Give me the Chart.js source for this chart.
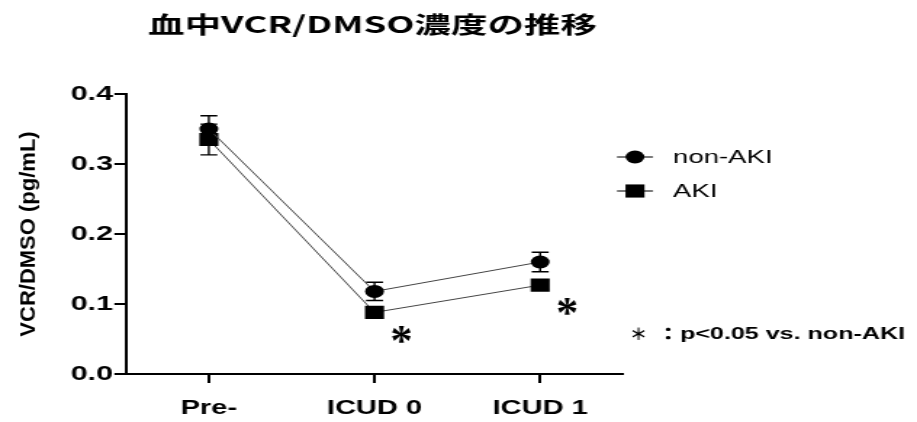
<!DOCTYPE html>
<html>
<head>
<meta charset="utf-8">
<script src="https://cdn.jsdelivr.net/npm/chart.js@4.4.1/dist/chart.umd.min.js"></script>
<style>
  html, body { margin: 0; padding: 0; background: #fff; overflow: hidden; }
  #wrap { position: absolute; left: 0; top: 0; width: 632px; height: 422px;
          transform: scaleX(1.45095); transform-origin: 0 0; }
</style>
</head>
<body>
<div id="wrap"><canvas id="c"></canvas></div>
<script>
// ---- data ----
const categories = ['Pre-', 'ICUD 0', 'ICUD 1'];
const nonAkiMean = [0.350, 0.118, 0.160];
const nonAkiSem  = [0.019, 0.013, 0.014];
const akiMean    = [0.335, 0.088, 0.127];
const akiSem     = [0.022, 0.006, 0.006];
const significant = [false, true, true];
const yTicks = [0.0, 0.1, 0.2, 0.3, 0.4];
const seriesNames = ['non-AKI', 'AKI'];
const titleText = '血中VCR/DMSO濃度の推移';
const yTitleText = 'VCR/DMSO (pg/mL)';
const footnoteMark = '＊';
const footnoteSep = '：';
const footnoteText = 'p<0.05 vs. non-AKI';

// The figure is drawn on a narrower canvas and widened horizontally by CSS.
const S = 917 / 632;
const cx = x => x / S;               // page x -> canvas x
const SANS = '"Liberation Sans", Arial, sans-serif';
const CJK = '"Noto Sans CJK JP", sans-serif';

// error bars (mean ± SEM) with caps
const errorBars = {
  id: 'errorBars',
  beforeDatasetsDraw(chart) {
    const ctx = chart.ctx, ys = chart.scales.y;
    const cap = cx(8.5);
    chart.data.datasets.forEach((ds, i) => {
      chart.getDatasetMeta(i).data.forEach((pt, j) => {
        const top = ys.getPixelForValue(ds.data[j] + ds.sem[j]);
        const bot = ys.getPixelForValue(ds.data[j] - ds.sem[j]);
        ctx.save();
        ctx.strokeStyle = '#000';
        ctx.lineWidth = 1.4;
        ctx.beginPath();
        ctx.moveTo(pt.x, top); ctx.lineTo(pt.x, bot);
        ctx.moveTo(pt.x - cap, top); ctx.lineTo(pt.x + cap, top);
        ctx.moveTo(pt.x - cap, bot); ctx.lineTo(pt.x + cap, bot);
        ctx.stroke();
        ctx.restore();
      });
    });
  }
};

// draw a glyph fitted into a box (page pixels) centred at (x, y)
function fitGlyph(ctx, text, font, x, y, w, h) {
  ctx.save();
  ctx.font = font;
  ctx.textAlign = 'left';
  ctx.textBaseline = 'alphabetic';
  const m = ctx.measureText(text);
  const gw = m.actualBoundingBoxLeft + m.actualBoundingBoxRight;
  const gh = m.actualBoundingBoxAscent + m.actualBoundingBoxDescent;
  const gx = (m.actualBoundingBoxRight - m.actualBoundingBoxLeft) / 2;
  const gy = (m.actualBoundingBoxDescent - m.actualBoundingBoxAscent) / 2;
  ctx.translate(x, y);
  ctx.scale(cx(w) / gw, h / gh);
  ctx.fillStyle = '#000';
  ctx.fillText(text, -gx, -gy);
  ctx.restore();
}

// draw a line of text stretched to span [x0, x1] (page pixels)
function spanText(ctx, text, font, x0, x1, y) {
  ctx.save();
  ctx.font = font;
  ctx.textAlign = 'left';
  ctx.textBaseline = 'middle';
  const w = ctx.measureText(text).width;
  ctx.translate(cx(x0), y);
  ctx.scale(cx(x1 - x0) / w, 1);
  ctx.fillStyle = '#000';
  ctx.fillText(text, 0, 0);
  ctx.restore();
}

// significance marks next to the AKI points
const sigMarks = {
  id: 'sigMarks',
  afterDatasetsDraw(chart) {
    const meta = chart.getDatasetMeta(1);
    significant.forEach((sig, j) => {
      if (!sig) return;
      const pt = meta.data[j];
      fitGlyph(chart.ctx, '*', 'bold 40px "Liberation Serif", serif',
               pt.x + cx(27), pt.y + 22, 20, 18);
    });
  }
};

function drawMarker(ctx, style, x, y) {
  ctx.fillStyle = '#000';
  ctx.beginPath();
  if (style === 'circle') {
    ctx.arc(x, y, 6.5, 0, Math.PI * 2);
  } else {
    const h = 9.3 * Math.SQRT1_2;
    ctx.rect(x - h, y - h, 2 * h, 2 * h);
  }
  ctx.fill();
}

// titles, legend and footnote
const decorations = {
  id: 'decorations',
  afterDraw(chart) {
    const ctx = chart.ctx;

    // main title
    spanText(ctx, titleText, 'bold 23px ' + CJK, 148, 597, 24);

    // y-axis title keeps its natural proportions
    ctx.save();
    ctx.scale(1 / S, 1);
    ctx.fillStyle = '#000';
    ctx.translate(29, 234);
    ctx.rotate(-Math.PI / 2);
    ctx.font = 'bold 22px ' + SANS;
    ctx.textAlign = 'center';
    ctx.textBaseline = 'middle';
    ctx.fillText(yTitleText, 0, 0);
    ctx.restore();

    // legend
    const rows = [157, 191];
    chart.data.datasets.forEach((ds, i) => {
      const y = rows[i];
      ctx.save();
      ctx.strokeStyle = '#333';
      ctx.lineWidth = 1.3;
      ctx.beginPath();
      ctx.moveTo(cx(617), y); ctx.lineTo(cx(653), y);
      ctx.stroke();
      drawMarker(ctx, ds.pointStyle, cx(635), y);
      ctx.fillStyle = '#000';
      ctx.font = '19px ' + SANS;
      ctx.textAlign = 'left';
      ctx.textBaseline = 'middle';
      ctx.fillText(ds.label, cx(673), y + 1);
      ctx.restore();
    });

    // footnote
    fitGlyph(ctx, footnoteMark, 'bold 20px ' + CJK, cx(638.5), 333, 14, 13);
    ctx.save();
    ctx.fillStyle = '#000';
    ctx.font = 'bold 17px ' + CJK;
    ctx.textAlign = 'center';
    ctx.textBaseline = 'middle';
    ctx.fillText(footnoteSep, cx(668), 334);
    ctx.restore();
    spanText(ctx, footnoteText, 'bold 17px ' + SANS, 680, 905, 334);
  }
};

new Chart(document.getElementById('c'), {
  type: 'line',
  data: {
    labels: categories,
    datasets: [
      {
        label: seriesNames[0], data: nonAkiMean, sem: nonAkiSem,
        borderColor: '#444', borderWidth: 1, tension: 0,
        pointStyle: 'circle', pointRadius: 6.5,
        pointBackgroundColor: '#000', pointBorderColor: '#000', pointBorderWidth: 0
      },
      {
        label: seriesNames[1], data: akiMean, sem: akiSem,
        borderColor: '#444', borderWidth: 1, tension: 0,
        pointStyle: 'rect', pointRadius: 9.3,
        pointBackgroundColor: '#000', pointBorderColor: '#000', pointBorderWidth: 0
      }
    ]
  },
  options: {
    responsive: true,
    maintainAspectRatio: false,
    animation: false,
    events: [],
    layout: { padding: { top: 94, right: 632 - cx(623), bottom: 0, left: 0 } },
    plugins: { legend: { display: false }, tooltip: { enabled: false }, title: { display: false } },
    scales: {
      x: {
        type: 'category',
        offset: true,
        grid: { display: true, drawOnChartArea: false, tickLength: 9, color: '#000', lineWidth: 2 },
        border: { display: true, color: '#000', width: 2 },
        ticks: { color: '#000', padding: 13, font: { family: SANS, size: 20, weight: 'bold' }, maxRotation: 0 },
        afterFit(scale) { scale.height = 48; }
      },
      y: {
        min: 0, max: 0.4,
        afterBuildTicks(scale) { scale.ticks = yTicks.map(v => ({ value: v })); },
        grid: { display: true, drawOnChartArea: false, tickLength: 8, color: '#000', lineWidth: 2 },
        border: { display: true, color: '#000', width: 2 },
        ticks: { color: '#000', padding: 1, font: { family: SANS, size: 21, weight: 'bold' },
                 callback: v => v.toFixed(1) },
        afterFit(scale) { scale.width = cx(126); }
      }
    }
  },
  plugins: [errorBars, sigMarks, decorations]
});
</script>
</body>
</html>
